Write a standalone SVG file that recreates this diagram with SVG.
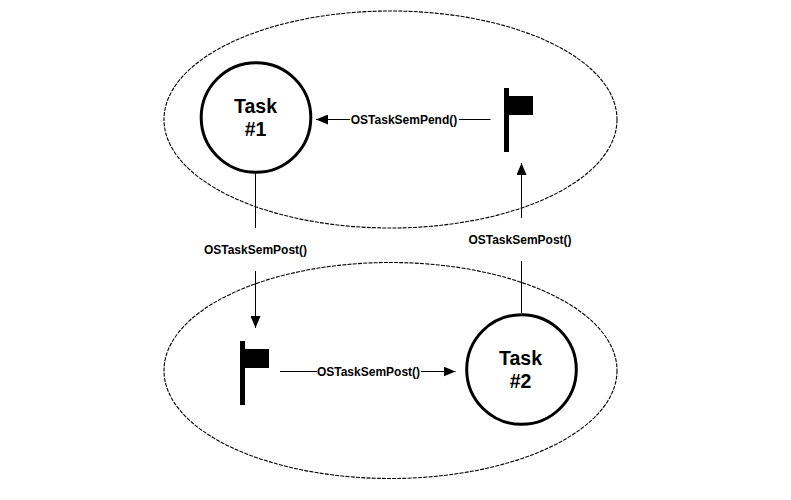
<svg xmlns="http://www.w3.org/2000/svg" width="791" height="500" viewBox="0 0 791 500">
<style>
text{font-family:"Liberation Sans",Arial,sans-serif;font-weight:bold;fill:#000;text-anchor:middle}
.lbl{font-size:12px}
.tsk{font-size:19.5px}
.scope{fill:none;stroke:#000;stroke-width:1.1;stroke-dasharray:4 1.2}
.circ{fill:#fff;stroke:#000;stroke-width:3}
.ln{fill:none;stroke:#000;stroke-width:1}
.arr{marker-end:url(#head)}
</style>
<defs>
<marker id="head" markerUnits="userSpaceOnUse" markerWidth="13" markerHeight="10" refX="12" refY="5" orient="auto"><path d="M0 0L12 5L0 10Z" fill="#000"/></marker>
</defs>
<rect width="791" height="500" fill="#fff"/>
<g id="scope1"><ellipse class="scope" cx="390.5" cy="119.5" rx="226.5" ry="108.5"/></g>
<g id="scope2"><ellipse class="scope" cx="390.5" cy="370.5" rx="226.5" ry="108"/></g>
<g id="connectors">
<path class="ln" d="M490.5 119.5H459"/>
<path class="ln arr" d="M350 119.500H316"/>
<path class="ln" d="M255.500 173V228"/>
<path class="ln arr" d="M255.500 271V328"/>
<path class="ln" d="M521.500 313V261"/>
<path class="ln arr" d="M521.500 218V163"/>
<path class="ln" d="M280 371.500H317"/>
<path class="ln arr" d="M421 371.500H455.500"/>
<text class="lbl" x="404" y="124">OSTaskSemPend()</text>
<text class="lbl" x="255.500" y="254">OSTaskSemPost()</text>
<text class="lbl" x="520" y="244">OSTaskSemPost()</text>
<text class="lbl" x="368.500" y="376">OSTaskSemPost()</text>
</g>
<g id="task1"><circle class="circ" cx="256" cy="117.500" r="54.800"/><text class="tsk" x="255.500" y="113">Task</text><text class="tsk" x="255.500" y="136">#1</text></g>
<g id="task2"><circle class="circ" cx="521.500" cy="369.500" r="54.800"/><text class="tsk" x="520.500" y="365">Task</text><text class="tsk" x="520.500" y="388">#2</text></g>
<g id="flag1"><path d="M504 88H509V96H533V115H509V152H504Z" fill="#000"/></g>
<g id="flag2"><path d="M240 341H245V349H269V368H245V405H240Z" fill="#000"/></g>
</svg>
